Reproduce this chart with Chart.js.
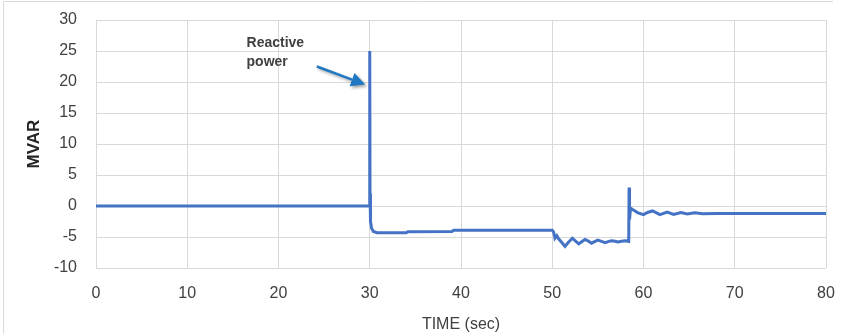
<!DOCTYPE html>
<html>
<head>
<meta charset="utf-8">
<script src="https://cdn.jsdelivr.net/npm/chart.js@4.4.1/dist/chart.umd.min.js"></script>
<style>
  body { margin: 0; background: #fff; }
  #wrap { position: relative; width: 842px; height: 334px; }
</style>
</head>
<body>
<div id="wrap"><canvas id="myChart"></canvas></div>
<script>
// time (s) and reactive power (MVAR)
const timeVals = [0, 29.97, 30.0, 30.03, 30.08, 30.2, 30.4, 30.8, 34, 34.2, 39, 39.2, 50.0,
  50.15, 50.3, 50.5, 50.7, 51.0, 51.4, 51.8, 52.2, 52.5, 52.9, 53.3, 53.6, 54.0, 54.3, 54.7, 55.0,
  55.4, 55.8, 56.2, 56.5, 56.9, 57.2, 57.6, 58.0, 58.38, 58.42, 58.47, 58.55, 58.65, 58.85, 59.4,
  60.0, 60.5, 61.0, 61.8, 62.6, 63.3, 64.1, 64.8, 65.6, 66.5, 68, 70, 75, 80];
const mvarVals = [0, 0, 25, 2, -2.5, -3.6, -4.1, -4.3, -4.3, -4.15, -4.1, -3.9, -3.9,
  -4.2, -5.2, -4.8, -5.3, -5.8, -6.5, -5.8, -5.2, -5.6, -6.1, -5.7, -5.4, -5.7, -6.0, -5.7, -5.5,
  -5.7, -5.9, -5.7, -5.6, -5.7, -5.8, -5.7, -5.6, -5.7, 3.0, -2.2, -0.8, -0.4, -0.6, -1.1,
  -1.4, -1.0, -0.8, -1.4, -1.0, -1.35, -1.05, -1.3, -1.1, -1.25, -1.2, -1.2, -1.2, -1.2];
const xTicks = [0, 10, 20, 30, 40, 50, 60, 70, 80];
const yTicks = [-10, -5, 0, 5, 10, 15, 20, 25, 30];
const noteLines = ['Reactive', 'power'];
const noteAt = { x: 16.5, y: 25.6 };
const arrowFrom = { x: 24.2, y: 22.5 };
const arrowTo = { x: 29.5, y: 19.6 };

const tickFont = { family: '"Liberation Sans Narrow", "Liberation Sans", sans-serif', size: 16 };

const frame = {
  id: 'frame',
  beforeDraw(chart) {
    const ctx = chart.ctx;
    ctx.save();
    ctx.strokeStyle = '#d9d9d9';
    ctx.lineWidth = 1;
    ctx.beginPath();
    ctx.moveTo(3.5, 334);
    ctx.lineTo(3.5, 1.5);
    ctx.lineTo(833, 1.5);
    ctx.stroke();
    ctx.restore();
  }
};

const note = {
  id: 'note',
  afterDraw(chart) {
    const ctx = chart.ctx;
    const xs = chart.scales.x, ys = chart.scales.y;
    ctx.save();
    ctx.fillStyle = '#404040';
    ctx.font = 'bold 14px "Liberation Sans", sans-serif';
    ctx.textBaseline = 'alphabetic';
    const tx = xs.getPixelForValue(noteAt.x), ty = ys.getPixelForValue(noteAt.y);
    noteLines.forEach((l, i) => ctx.fillText(l, tx, ty + i * 19));

    const x1 = xs.getPixelForValue(arrowFrom.x), y1 = ys.getPixelForValue(arrowFrom.y);
    const x2 = xs.getPixelForValue(arrowTo.x), y2 = ys.getPixelForValue(arrowTo.y);
    const ang = Math.atan2(y2 - y1, x2 - x1);
    const head = 14, half = 7;
    const bx = x2 - head * Math.cos(ang), by = y2 - head * Math.sin(ang);
    ctx.shadowColor = 'rgba(0,0,0,0.35)';
    ctx.shadowBlur = 3;
    ctx.shadowOffsetX = 2;
    ctx.shadowOffsetY = 2;
    ctx.strokeStyle = '#1f78c1';
    ctx.fillStyle = '#1f78c1';
    ctx.lineWidth = 2.5;
    ctx.beginPath();
    ctx.moveTo(x1, y1);
    ctx.lineTo(bx, by);
    ctx.stroke();
    ctx.beginPath();
    ctx.moveTo(x2, y2);
    ctx.lineTo(bx + half * Math.sin(ang), by - half * Math.cos(ang));
    ctx.lineTo(bx - half * Math.sin(ang), by + half * Math.cos(ang));
    ctx.closePath();
    ctx.fill();
    ctx.restore();
  }
};

new Chart(document.getElementById('myChart'), {
  type: 'line',
  data: {
    datasets: [{
      data: timeVals.map((t, i) => ({ x: t, y: mvarVals[i] })),
      borderColor: '#4472c4',
      borderWidth: 3,
      pointRadius: 0,
      tension: 0,
      fill: false
    }]
  },
  options: {
    responsive: true,
    maintainAspectRatio: false,
    animation: false,
    layout: { padding: { left: 0, top: 20, right: 16, bottom: 0 } },
    plugins: { legend: { display: false }, tooltip: { enabled: false } },
    scales: {
      x: {
        type: 'linear',
        min: 0, max: 80,
        afterBuildTicks: s => { s.ticks = xTicks.map(v => ({ value: v })); },
        afterFit: s => { s.height = 66; s.paddingLeft = 0; s.paddingRight = 0; },
        grid: { color: '#d9d9d9', drawTicks: false },
        border: { display: false },
        ticks: { font: tickFont, color: '#404040', padding: 16, maxRotation: 0 },
        title: { display: true, text: 'TIME (sec)', font: tickFont, color: '#404040', padding: { top: 0, bottom: 0 } }
      },
      y: {
        min: -10, max: 30,
        afterBuildTicks: s => { s.ticks = yTicks.map(v => ({ value: v })); },
        afterFit: s => { s.width = 96; s.paddingTop = 0; s.paddingBottom = 0; },
        grid: { color: '#d9d9d9', drawTicks: false },
        border: { display: false },
        ticks: { font: tickFont, color: '#404040', padding: 19 },
        title: { display: true, text: 'MVAR', font: { family: tickFont.family, size: 17, weight: 'bold' }, color: '#262626', padding: 24 }
      }
    }
  },
  plugins: [frame, note]
});
</script>
</body>
</html>
